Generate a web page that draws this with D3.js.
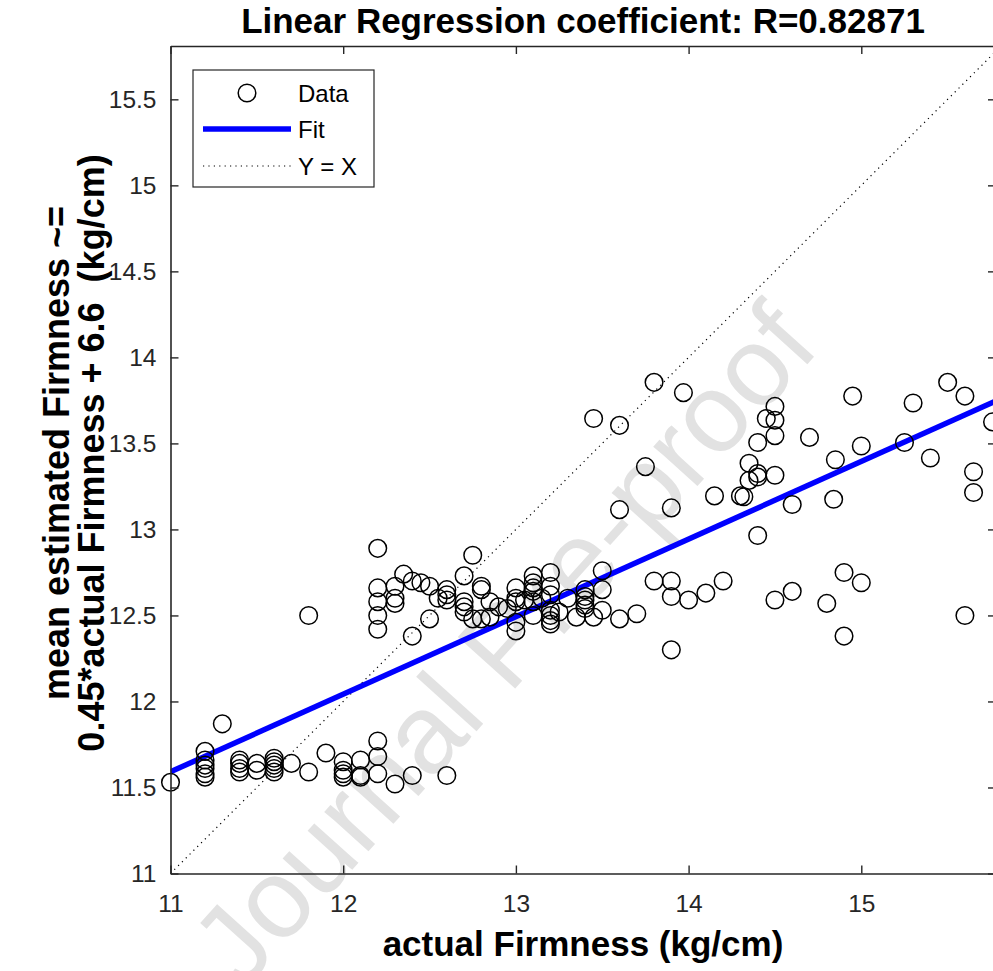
<!DOCTYPE html>
<html><head><meta charset="utf-8">
<script src="https://cdn.jsdelivr.net/npm/d3@7"></script>
<style>body{margin:0;background:#fff}svg{display:block}text{white-space:pre}</style>
</head><body>
<svg id="chart" width="993" height="971"></svg>
<script>
// ---------- data ----------
const actualFirmness = [
 11.0, 11.2,11.2,11.2,11.2,11.2,11.2, 11.3, 11.4,11.4,11.4,11.4, 11.5,11.5,
 11.6,11.6,11.6,11.6,11.6, 11.7, 11.8, 11.9, 12.0,12.0,12.0,12.0, 12.1,12.1,12.1,
 12.2,12.2,12.2, 12.3, 12.4, 12.6,
 11.8, 12.2,12.2,12.2,12.2,12.2, 12.3,12.3,12.3, 12.35, 12.4,12.4, 12.45, 12.5,12.5,
 12.55, 12.6,12.6,12.6, 12.7,12.7,12.7,12.7, 12.75,12.75, 12.8,12.8,12.8, 12.85,12.85,
 12.9, 12.95, 13.0,13.0,13.0,13.0,13.0, 13.05, 13.1,13.1,13.1,13.1,13.1,13.1, 13.15,
 13.2,13.2,13.2,13.2,13.2,13.2,13.2, 13.25, 13.3, 13.35, 13.4,13.4,13.4,13.4,13.4,
 13.45, 13.5,13.5,13.5, 13.6, 13.7, 13.8, 13.9,13.9,13.9, 14.0, 14.1, 14.2, 14.5,
 14.6, 14.8, 14.9,14.9, 15.0, 15.6,
 13.45, 13.6,13.6, 13.75, 13.8, 13.97, 13.9, 14.15, 14.3, 14.32, 14.35,14.35,
 14.4,14.4,14.4,14.4, 14.45, 14.5,14.5,14.5,14.5, 14.6, 14.7, 14.85, 14.84, 14.95,
 15.0, 15.25, 15.3, 15.4, 15.5, 15.6, 15.65,15.65, 15.76
];
const estimatedFirmness = [
 11.53, 11.71,11.66,11.63,11.61,11.58,11.56, 11.87, 11.66,11.64,11.61,11.59, 11.64,11.60,
 11.67,11.65,11.63,11.61,11.59, 11.64, 11.59, 11.70, 11.65,11.60,11.58,11.56, 11.66,11.57,11.56,
 11.77,11.68,11.58, 11.52, 11.57, 11.57,
 12.50, 12.89,12.66,12.58,12.50,12.42, 12.67,12.60,12.57, 12.74, 12.70,12.38, 12.69, 12.67,12.48,
 12.60, 12.65,12.62,12.59, 12.73,12.58,12.55,12.52, 12.85,12.48, 12.67,12.65,12.48, 12.49,12.58,
 12.55, 12.54, 12.66,12.60,12.58,12.46,12.41, 12.59, 12.73,12.69,12.66,12.64,12.58,12.50, 12.60,
 12.75,12.67,12.62,12.53,12.50,12.47,12.45, 12.52, 12.60, 12.49, 12.65,12.61,12.59,12.56,12.54,
 12.49, 12.76,12.65,12.53, 12.48, 12.51, 12.70, 12.70,12.61,12.30, 12.59, 12.63, 12.70, 12.59,
 12.64, 12.57, 12.75,12.38, 12.69, 12.50,
 13.645, 13.605,13.115, 13.365, 13.855, 13.795, 13.125, 13.195, 13.195, 13.19, 13.385,13.285,
 13.325,13.305,13.505,12.965, 13.645, 13.715,13.635,13.545,13.315, 13.145, 13.535, 13.405, 13.175, 13.775,
 13.485, 13.505, 13.735, 13.415, 13.855, 13.775, 13.335,13.215, 13.625
];
const fitSlope = 0.451;
const fitIntercept = 6.63;
const xDomain = [11, 15.78];
const yDomain = [11, 15.81];
const xTickValues = [11, 12, 13, 14, 15];
const yTickValues = [11, 11.5, 12, 12.5, 13, 13.5, 14, 14.5, 15, 15.5];
const legendLabels = ["Data", "Fit", "Y = X"];
const titleText = "Linear Regression coefficient: R=0.82871";
const xLabelText = "actual Firmness (kg/cm)";
const yLabelLines = ["mean estimated Firmness ~=", "0.45*actual Firmness + 6.6  (kg/cm)"];
const watermarkText = "Journal Pre-proof";

// ---------- layout ----------
const svg = d3.select("#chart");
const L = 170.5, R = 996, T = 46, B = 873.5;
const axisColor = "#262626";
const x = d3.scaleLinear().domain(xDomain).range([L, R]);
const y = d3.scaleLinear().domain(yDomain).range([B, T]);
const font = "'Liberation Sans', Arial, sans-serif";

svg.append("rect").attr("width", 993).attr("height", 971).attr("fill", "#fff");

// watermark
svg.append("text")
  .attr("transform", "translate(510,650) rotate(-48)")
  .attr("text-anchor", "middle").attr("dominant-baseline", "middle")
  .attr("font-family", font).attr("font-size", 112)
  .attr("fill", "#e2e2e2").text(watermarkText);

svg.append("clipPath").attr("id", "clip")
  .append("rect").attr("x", L).attr("y", T).attr("width", R - L).attr("height", B - T);

// Y = X line
const plot = svg.append("g").attr("clip-path", "url(#clip)");
const lo = Math.max(xDomain[0], yDomain[0]), hi = Math.min(xDomain[1], yDomain[1]);
plot.append("line")
  .attr("x1", x(lo)).attr("y1", y(lo)).attr("x2", x(hi)).attr("y2", y(hi))
  .attr("stroke", "#000").attr("stroke-width", 1.2).attr("stroke-dasharray", "1.2,4.2");

// Fit line
plot.append("line")
  .attr("x1", x(xDomain[0])).attr("y1", y(fitSlope * xDomain[0] + fitIntercept))
  .attr("x2", x(xDomain[1])).attr("y2", y(fitSlope * xDomain[1] + fitIntercept))
  .attr("stroke", "#0000ff").attr("stroke-width", 5.5);

// data circles
svg.append("g").selectAll("circle")
  .data(actualFirmness.map((v, i) => [v, estimatedFirmness[i]]))
  .join("circle")
  .attr("cx", d => x(d[0])).attr("cy", d => y(d[1]))
  .attr("r", 8.8).attr("fill", "none").attr("stroke", "#000").attr("stroke-width", 1.5);

// axes (box with inward ticks)
const tickLen = 8;
function styleAxis(g) {
  g.selectAll("path").attr("stroke", axisColor).attr("stroke-width", 1.6);
  g.selectAll("line").attr("stroke", axisColor).attr("stroke-width", 1.4);
  g.selectAll("text").attr("font-family", font).attr("font-size", 24.5).attr("fill", axisColor);
}
const fmt = d3.format("");
svg.append("g").attr("transform", `translate(0,${B})`)
  .call(d3.axisBottom(x).tickValues(xTickValues).tickFormat(fmt).tickSizeInner(-tickLen).tickSizeOuter(0).tickPadding(21))
  .call(styleAxis);
svg.append("g").attr("transform", `translate(0,${T})`)
  .call(d3.axisTop(x).tickValues(xTickValues).tickFormat("").tickSizeInner(-tickLen).tickSizeOuter(0))
  .call(styleAxis);
svg.append("g").attr("transform", `translate(${L},0)`)
  .call(d3.axisLeft(y).tickValues(yTickValues).tickFormat(fmt).tickSizeInner(-tickLen).tickSizeOuter(0).tickPadding(14))
  .call(styleAxis);
svg.append("g").attr("transform", `translate(${R},0)`)
  .call(d3.axisRight(y).tickValues(yTickValues).tickFormat("").tickSizeInner(-tickLen).tickSizeOuter(0))
  .call(styleAxis);

// title & labels
svg.append("text").attr("x", 583).attr("y", 33)
  .attr("text-anchor", "middle").attr("font-family", font).attr("font-weight", "bold")
  .attr("font-size", 35).attr("fill", "#000").text(titleText);
svg.append("text").attr("x", 583).attr("y", 956)
  .attr("text-anchor", "middle").attr("font-family", font).attr("font-weight", "bold")
  .attr("font-size", 35).attr("fill", "#000").text(xLabelText);
const yl = svg.append("text").attr("transform", "translate(0,453) rotate(-90)")
  .attr("text-anchor", "middle").attr("font-family", font).attr("font-weight", "bold")
  .attr("font-size", 36).attr("fill", "#000");
yLabelLines.forEach((t, i) => yl.append("tspan").attr("x", 0).attr("y", 69 + i * 35).text(t));

// legend
const lg = svg.append("g");
lg.append("rect").attr("x", 193).attr("y", 70).attr("width", 181).attr("height", 117)
  .attr("fill", "#fff").attr("stroke", axisColor).attr("stroke-width", 1.2);
const rows = [93, 129, 166];
lg.append("circle").attr("cx", 247).attr("cy", rows[0]).attr("r", 8.8)
  .attr("fill", "none").attr("stroke", "#000").attr("stroke-width", 1.5);
lg.append("line").attr("x1", 203).attr("x2", 291).attr("y1", rows[1]).attr("y2", rows[1])
  .attr("stroke", "#0000ff").attr("stroke-width", 5.5);
lg.append("line").attr("x1", 203).attr("x2", 291).attr("y1", rows[2]).attr("y2", rows[2])
  .attr("stroke", "#000").attr("stroke-width", 1.2).attr("stroke-dasharray", "1.2,4.2");
legendLabels.forEach((t, i) => lg.append("text").attr("x", 298).attr("y", rows[i])
  .attr("dominant-baseline", "central").attr("font-family", font).attr("font-size", 24)
  .attr("fill", "#000").text(t));
</script>
</body></html>
